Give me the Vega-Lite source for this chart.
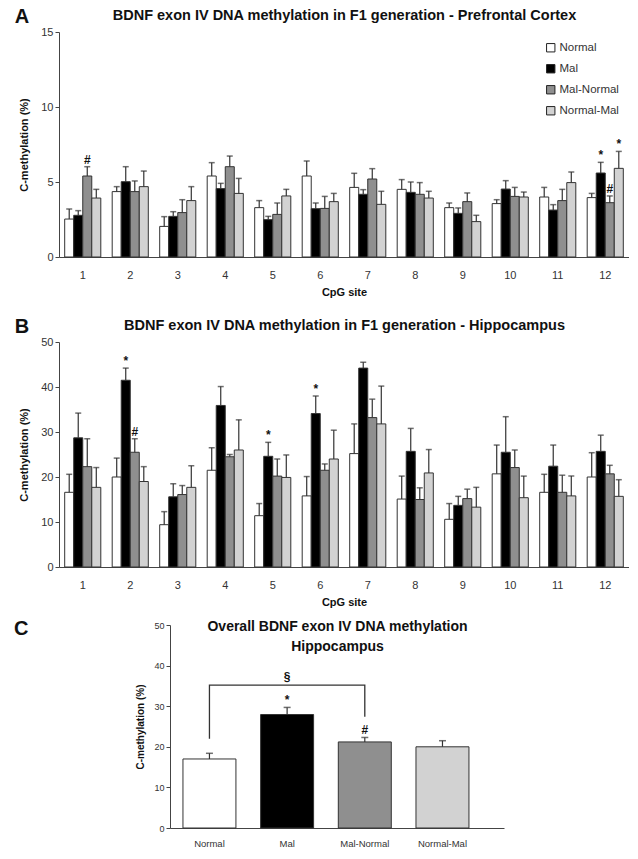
{
  "$schema": "https://vega.github.io/schema/vega-lite/v6.json",
  "padding": {"left": 14, "top": 7, "right": 0, "bottom": 0},
  "spacing": 12,
  "config": {
    "font": "Liberation Sans",
    "view": {"stroke": null},
    "axis": {"grid": false, "domainColor": "#444", "tickColor": "#444", "labelColor": "#333", "titleColor": "#111", "labelFont": "Liberation Sans", "titleFont": "Liberation Sans", "tickSize": 4, "labelPadding": 2}
  },
  "datasets": {
    "pfc": [
      {"site": 1, "grp": "Normal", "v": 2.53, "err": 3.2, "ann": ""},
      {"site": 1, "grp": "Mal", "v": 2.78, "err": 3.09, "ann": ""},
      {"site": 1, "grp": "Mal-Normal", "v": 5.4, "err": 6.02, "ann": "#"},
      {"site": 1, "grp": "Normal-Mal", "v": 3.93, "err": 4.51, "ann": ""},
      {"site": 2, "grp": "Normal", "v": 4.36, "err": 4.69, "ann": ""},
      {"site": 2, "grp": "Mal", "v": 5.02, "err": 6.02, "ann": ""},
      {"site": 2, "grp": "Mal-Normal", "v": 4.36, "err": 5.07, "ann": ""},
      {"site": 2, "grp": "Normal-Mal", "v": 4.69, "err": 5.73, "ann": ""},
      {"site": 3, "grp": "Normal", "v": 2.04, "err": 2.69, "ann": ""},
      {"site": 3, "grp": "Mal", "v": 2.71, "err": 3.02, "ann": ""},
      {"site": 3, "grp": "Mal-Normal", "v": 2.96, "err": 3.82, "ann": ""},
      {"site": 3, "grp": "Normal-Mal", "v": 3.76, "err": 4.69, "ann": ""},
      {"site": 4, "grp": "Normal", "v": 5.4, "err": 6.29, "ann": ""},
      {"site": 4, "grp": "Mal", "v": 4.56, "err": 4.91, "ann": ""},
      {"site": 4, "grp": "Mal-Normal", "v": 6.02, "err": 6.73, "ann": ""},
      {"site": 4, "grp": "Normal-Mal", "v": 4.24, "err": 5.24, "ann": ""},
      {"site": 5, "grp": "Normal", "v": 3.29, "err": 3.76, "ann": ""},
      {"site": 5, "grp": "Mal", "v": 2.49, "err": 2.71, "ann": ""},
      {"site": 5, "grp": "Mal-Normal", "v": 2.84, "err": 3.6, "ann": ""},
      {"site": 5, "grp": "Normal-Mal", "v": 4.07, "err": 4.51, "ann": ""},
      {"site": 6, "grp": "Normal", "v": 5.4, "err": 6.4, "ann": ""},
      {"site": 6, "grp": "Mal", "v": 3.22, "err": 3.6, "ann": ""},
      {"site": 6, "grp": "Mal-Normal", "v": 3.24, "err": 4.04, "ann": ""},
      {"site": 6, "grp": "Normal-Mal", "v": 3.69, "err": 4.24, "ann": ""},
      {"site": 7, "grp": "Normal", "v": 4.64, "err": 5.58, "ann": ""},
      {"site": 7, "grp": "Mal", "v": 4.18, "err": 4.49, "ann": ""},
      {"site": 7, "grp": "Mal-Normal", "v": 5.2, "err": 5.89, "ann": ""},
      {"site": 7, "grp": "Normal-Mal", "v": 3.51, "err": 4.38, "ann": ""},
      {"site": 8, "grp": "Normal", "v": 4.51, "err": 5.16, "ann": ""},
      {"site": 8, "grp": "Mal", "v": 4.31, "err": 5.0, "ann": ""},
      {"site": 8, "grp": "Mal-Normal", "v": 4.18, "err": 4.96, "ann": ""},
      {"site": 8, "grp": "Normal-Mal", "v": 3.93, "err": 4.38, "ann": ""},
      {"site": 9, "grp": "Normal", "v": 3.29, "err": 3.6, "ann": ""},
      {"site": 9, "grp": "Mal", "v": 2.91, "err": 3.27, "ann": ""},
      {"site": 9, "grp": "Mal-Normal", "v": 3.69, "err": 4.27, "ann": ""},
      {"site": 9, "grp": "Normal-Mal", "v": 2.36, "err": 2.78, "ann": ""},
      {"site": 10, "grp": "Normal", "v": 3.56, "err": 3.82, "ann": ""},
      {"site": 10, "grp": "Mal", "v": 4.53, "err": 5.09, "ann": ""},
      {"site": 10, "grp": "Mal-Normal", "v": 4.04, "err": 4.64, "ann": ""},
      {"site": 10, "grp": "Normal-Mal", "v": 4.0, "err": 4.33, "ann": ""},
      {"site": 11, "grp": "Normal", "v": 4.0, "err": 4.64, "ann": ""},
      {"site": 11, "grp": "Mal", "v": 3.13, "err": 3.49, "ann": ""},
      {"site": 11, "grp": "Mal-Normal", "v": 3.76, "err": 4.51, "ann": ""},
      {"site": 11, "grp": "Normal-Mal", "v": 4.96, "err": 5.67, "ann": ""},
      {"site": 12, "grp": "Normal", "v": 3.96, "err": 4.24, "ann": ""},
      {"site": 12, "grp": "Mal", "v": 5.6, "err": 6.31, "ann": "*"},
      {"site": 12, "grp": "Mal-Normal", "v": 3.62, "err": 4.07, "ann": "#"},
      {"site": 12, "grp": "Normal-Mal", "v": 5.91, "err": 7.04, "ann": "*"}
    ],
    "hip": [
      {"site": 1, "grp": "Normal", "v": 16.6, "err": 20.6, "ann": ""},
      {"site": 1, "grp": "Mal", "v": 28.7, "err": 34.2, "ann": ""},
      {"site": 1, "grp": "Mal-Normal", "v": 22.3, "err": 28.5, "ann": ""},
      {"site": 1, "grp": "Normal-Mal", "v": 17.7, "err": 22.1, "ann": ""},
      {"site": 2, "grp": "Normal", "v": 20.0, "err": 24.2, "ann": ""},
      {"site": 2, "grp": "Mal", "v": 41.5, "err": 44.2, "ann": "*"},
      {"site": 2, "grp": "Mal-Normal", "v": 25.5, "err": 28.5, "ann": "#"},
      {"site": 2, "grp": "Normal-Mal", "v": 19.0, "err": 22.3, "ann": ""},
      {"site": 3, "grp": "Normal", "v": 9.4, "err": 12.3, "ann": ""},
      {"site": 3, "grp": "Mal", "v": 15.6, "err": 18.5, "ann": ""},
      {"site": 3, "grp": "Mal-Normal", "v": 16.1, "err": 18.1, "ann": ""},
      {"site": 3, "grp": "Normal-Mal", "v": 17.7, "err": 22.5, "ann": ""},
      {"site": 4, "grp": "Normal", "v": 21.5, "err": 26.5, "ann": ""},
      {"site": 4, "grp": "Mal", "v": 35.9, "err": 40.1, "ann": ""},
      {"site": 4, "grp": "Mal-Normal", "v": 24.5, "err": 25.0, "ann": ""},
      {"site": 4, "grp": "Normal-Mal", "v": 26.0, "err": 32.7, "ann": ""},
      {"site": 5, "grp": "Normal", "v": 11.4, "err": 14.1, "ann": ""},
      {"site": 5, "grp": "Mal", "v": 24.6, "err": 27.7, "ann": "*"},
      {"site": 5, "grp": "Mal-Normal", "v": 20.2, "err": 24.0, "ann": ""},
      {"site": 5, "grp": "Normal-Mal", "v": 19.9, "err": 24.9, "ann": ""},
      {"site": 6, "grp": "Normal", "v": 15.8, "err": 20.1, "ann": ""},
      {"site": 6, "grp": "Mal", "v": 34.1, "err": 38.0, "ann": "*"},
      {"site": 6, "grp": "Mal-Normal", "v": 21.5, "err": 22.9, "ann": ""},
      {"site": 6, "grp": "Normal-Mal", "v": 24.0, "err": 30.4, "ann": ""},
      {"site": 7, "grp": "Normal", "v": 25.2, "err": 31.8, "ann": ""},
      {"site": 7, "grp": "Mal", "v": 44.2, "err": 45.5, "ann": ""},
      {"site": 7, "grp": "Mal-Normal", "v": 33.2, "err": 37.3, "ann": ""},
      {"site": 7, "grp": "Normal-Mal", "v": 31.8, "err": 40.2, "ann": ""},
      {"site": 8, "grp": "Normal", "v": 15.1, "err": 20.2, "ann": ""},
      {"site": 8, "grp": "Mal", "v": 25.7, "err": 30.8, "ann": ""},
      {"site": 8, "grp": "Mal-Normal", "v": 15.0, "err": 17.6, "ann": ""},
      {"site": 8, "grp": "Normal-Mal", "v": 20.9, "err": 26.1, "ann": ""},
      {"site": 9, "grp": "Normal", "v": 10.6, "err": 14.1, "ann": ""},
      {"site": 9, "grp": "Mal", "v": 13.7, "err": 15.7, "ann": ""},
      {"site": 9, "grp": "Mal-Normal", "v": 15.2, "err": 17.3, "ann": ""},
      {"site": 9, "grp": "Normal-Mal", "v": 13.3, "err": 17.7, "ann": ""},
      {"site": 10, "grp": "Normal", "v": 20.7, "err": 27.1, "ann": ""},
      {"site": 10, "grp": "Mal", "v": 25.5, "err": 33.4, "ann": ""},
      {"site": 10, "grp": "Mal-Normal", "v": 22.1, "err": 26.0, "ann": ""},
      {"site": 10, "grp": "Normal-Mal", "v": 15.4, "err": 20.2, "ann": ""},
      {"site": 11, "grp": "Normal", "v": 16.6, "err": 20.6, "ann": ""},
      {"site": 11, "grp": "Mal", "v": 22.4, "err": 27.1, "ann": ""},
      {"site": 11, "grp": "Mal-Normal", "v": 16.6, "err": 20.4, "ann": ""},
      {"site": 11, "grp": "Normal-Mal", "v": 15.8, "err": 20.2, "ann": ""},
      {"site": 12, "grp": "Normal", "v": 20.0, "err": 25.4, "ann": ""},
      {"site": 12, "grp": "Mal", "v": 25.7, "err": 29.3, "ann": ""},
      {"site": 12, "grp": "Mal-Normal", "v": 20.7, "err": 22.6, "ann": ""},
      {"site": 12, "grp": "Normal-Mal", "v": 15.7, "err": 19.4, "ann": ""}
    ],
    "overall": [
      {"grp": "Normal", "v": 17.0, "err": 18.4, "ann": ""},
      {"grp": "Mal", "v": 27.95, "err": 29.7, "ann": "*"},
      {"grp": "Mal-Normal", "v": 21.2, "err": 22.3, "ann": "#"},
      {"grp": "Normal-Mal", "v": 20.0, "err": 21.5, "ann": ""}
    ],
    "bracket": [
      {"grp": "Normal", "y": 22.0, "o": 1},
      {"grp": "Normal", "y": 35.2, "o": 2},
      {"grp": "Mal-Normal", "y": 35.2, "o": 3},
      {"grp": "Mal-Normal", "y": 27.4, "o": 4}
    ],
    "sect": [
      {"grp": "Mal", "y": 37.2, "t": "§"}
    ]
  },
  "resolve": {
    "scale": {"x": "independent", "y": "independent", "xOffset": "independent", "color": "independent"},
    "legend": {"color": "independent"}
  },
  "vconcat": [
    {
      "spacing": 20,
      "resolve": {
        "scale": {"x": "independent", "y": "independent", "xOffset": "independent", "color": "independent"},
        "legend": {"color": "independent"}
      },
      "vconcat": [
        {
          "width": 570,
          "height": 225,
          "data": {"name": "pfc"},
          "title": {"text": "A", "orient": "left", "angle": 0, "anchor": "end", "frame": "bounds", "offset": -25.5, "fontSize": 20, "fontWeight": "bold", "align": "right", "baseline": "top", "color": "#111"},
          "resolve": {"axis": {"x": "independent"}},
          "layer": [
            {
              "mark": {"type": "bar", "stroke": "#333", "strokeWidth": 1},
              "encoding": {
                "x": {"field": "site", "type": "ordinal", "scale": {"paddingInner": 0.24, "paddingOuter": 0.12},
                      "axis": {"title": "CpG site", "labelAngle": 0, "ticks": false, "labelPadding": 12, "labelFontSize": 11, "titleFontSize": 11, "titleFontWeight": "bold", "titlePadding": 6}},
                "xOffset": {"field": "grp", "type": "nominal", "scale": {"domain": ["Normal", "Mal", "Mal-Normal", "Normal-Mal"], "paddingInner": 0, "paddingOuter": 0}},
                "y": {"field": "v", "type": "quantitative", "title": "C-methylation (%)", "scale": {"domain": [0, 15], "nice": false},
                      "axis": {"values": [0, 5, 10, 15], "labelFontSize": 11, "titleFontSize": 11, "titleFontWeight": "bold", "titlePadding": 11.5}},
                "color": {"field": "grp", "type": "nominal",
                          "scale": {"domain": ["Normal", "Mal", "Mal-Normal", "Normal-Mal"], "range": ["#ffffff", "#000000", "#8f8f8f", "#d2d2d2"]},
                          "legend": {"title": null, "orient": "top-right", "offset": 10, "symbolType": "square", "symbolSize": 70, "symbolStrokeColor": "#222", "symbolStrokeWidth": 1, "labelFontSize": 11.5, "labelColor": "#333", "rowPadding": 8, "labelOffset": 3}}
              }
            },
            {
              "mark": {"type": "rule", "color": "#333", "strokeWidth": 1.2},
              "encoding": {
                "x": {"field": "site", "type": "ordinal", "axis": null},
                "xOffset": {"field": "grp", "type": "nominal"},
                "y": {"field": "v", "type": "quantitative", "title": "C-methylation (%)"},
                "y2": {"field": "err"}
              }
            },
            {
              "mark": {"type": "tick", "color": "#333", "size": 6, "thickness": 1.5, "orient": "horizontal"},
              "encoding": {
                "x": {"field": "site", "type": "ordinal", "axis": null},
                "xOffset": {"field": "grp", "type": "nominal"},
                "y": {"field": "err", "type": "quantitative", "title": "C-methylation (%)"}
              }
            },
            {
              "transform": [{"filter": "datum.ann != ''"}],
              "mark": {"type": "text", "dy": -7, "fontSize": 12, "fontWeight": "bold", "baseline": "middle", "color": "#111"},
              "encoding": {
                "x": {"field": "site", "type": "ordinal", "axis": null},
                "xOffset": {"field": "grp", "type": "nominal"},
                "y": {"field": "err", "type": "quantitative", "title": "C-methylation (%)"},
                "text": {"field": "ann"}
              }
            },
            {
              "mark": {"type": "rule", "opacity": 0},
              "encoding": {
                "x": {"field": "site", "type": "ordinal",
                      "axis": {"orient": "top", "labels": false, "ticks": false, "domain": false, "title": "BDNF exon IV DNA methylation in F1 generation - Prefrontal Cortex", "titleFontSize": 14.5, "titleFontWeight": "bold", "titlePadding": 10}}
              }
            }
          ]
        },
        {
          "width": 570,
          "height": 225,
          "data": {"name": "hip"},
          "title": {"text": "B", "orient": "left", "angle": 0, "anchor": "end", "frame": "bounds", "offset": -25.5, "fontSize": 20, "fontWeight": "bold", "align": "right", "baseline": "top", "color": "#111"},
          "resolve": {"axis": {"x": "independent"}},
          "layer": [
            {
              "mark": {"type": "bar", "stroke": "#333", "strokeWidth": 1},
              "encoding": {
                "x": {"field": "site", "type": "ordinal", "scale": {"paddingInner": 0.24, "paddingOuter": 0.12},
                      "axis": {"title": "CpG site", "labelAngle": 0, "ticks": false, "labelPadding": 12, "labelFontSize": 11, "titleFontSize": 11, "titleFontWeight": "bold", "titlePadding": 6}},
                "xOffset": {"field": "grp", "type": "nominal", "scale": {"domain": ["Normal", "Mal", "Mal-Normal", "Normal-Mal"], "paddingInner": 0, "paddingOuter": 0}},
                "y": {"field": "v", "type": "quantitative", "title": "C-methylation (%)", "scale": {"domain": [0, 50], "nice": false},
                      "axis": {"values": [0, 5, 10, 15, 20, 25, 30, 35, 40, 45, 50], "labelFontSize": 11, "titleFontSize": 11, "titleFontWeight": "bold", "titlePadding": 11.5}},
                "color": {"field": "grp", "type": "nominal",
                          "scale": {"domain": ["Normal", "Mal", "Mal-Normal", "Normal-Mal"], "range": ["#ffffff", "#000000", "#8f8f8f", "#d2d2d2"]},
                          "legend": null}
              }
            },
            {
              "mark": {"type": "rule", "color": "#333", "strokeWidth": 1.2},
              "encoding": {
                "x": {"field": "site", "type": "ordinal", "axis": null},
                "xOffset": {"field": "grp", "type": "nominal"},
                "y": {"field": "v", "type": "quantitative", "title": "C-methylation (%)"},
                "y2": {"field": "err"}
              }
            },
            {
              "mark": {"type": "tick", "color": "#333", "size": 6, "thickness": 1.5, "orient": "horizontal"},
              "encoding": {
                "x": {"field": "site", "type": "ordinal", "axis": null},
                "xOffset": {"field": "grp", "type": "nominal"},
                "y": {"field": "err", "type": "quantitative", "title": "C-methylation (%)"}
              }
            },
            {
              "transform": [{"filter": "datum.ann != ''"}],
              "mark": {"type": "text", "dy": -7, "fontSize": 12, "fontWeight": "bold", "baseline": "middle", "color": "#111"},
              "encoding": {
                "x": {"field": "site", "type": "ordinal", "axis": null},
                "xOffset": {"field": "grp", "type": "nominal"},
                "y": {"field": "err", "type": "quantitative", "title": "C-methylation (%)"},
                "text": {"field": "ann"}
              }
            },
            {
              "mark": {"type": "rule", "opacity": 0},
              "encoding": {
                "x": {"field": "site", "type": "ordinal",
                      "axis": {"orient": "top", "labels": false, "ticks": false, "domain": false, "title": "BDNF exon IV DNA methylation in F1 generation - Hippocampus", "titleFontSize": 14.5, "titleFontWeight": "bold", "titlePadding": 10}}
              }
            }
          ]
        }
      ]
    },
    {
      "spacing": 0,
      "resolve": {
        "scale": {"x": "independent", "y": "independent", "color": "independent"}
      },
      "hconcat": [
        {
          "width": 76,
          "height": 20,
          "data": {"values": []},
          "mark": "point",
          "title": {"text": "C", "orient": "left", "angle": 0, "anchor": "end", "frame": "bounds", "offset": 16, "dy": -6, "fontSize": 20, "fontWeight": "bold", "align": "right", "baseline": "top", "color": "#111"}
        },
        {
          "width": 334,
          "height": 203,
          "resolve": {"axis": {"x": "independent"}},
          "layer": [
            {
              "data": {"name": "overall"},
              "mark": {"type": "bar", "stroke": "#333", "strokeWidth": 1},
              "encoding": {
                "x": {"field": "grp", "type": "nominal", "sort": ["Normal", "Mal", "Mal-Normal", "Normal-Mal"],
                      "scale": {"domain": ["Normal", "Mal", "Mal-Normal", "Normal-Mal"], "paddingInner": 0.318, "paddingOuter": 0.309, "align": 0.27},
                      "axis": {"title": null, "labelAngle": 0, "ticks": false, "labelPadding": 10, "labelFontSize": 9.5}},
                "y": {"field": "v", "type": "quantitative", "title": "C-methylation (%)", "scale": {"domain": [0, 50], "nice": false},
                      "axis": {"values": [0, 5, 10, 15, 20, 25, 30, 35, 40, 45, 50], "labelFontSize": 9, "titleFontSize": 10, "titleFontWeight": "bold", "titlePadding": 8}},
                "color": {"field": "grp", "type": "nominal",
                          "scale": {"domain": ["Normal", "Mal", "Mal-Normal", "Normal-Mal"], "range": ["#ffffff", "#000000", "#8f8f8f", "#d2d2d2"]},
                          "legend": null}
              }
            },
            {
              "data": {"name": "overall"},
              "mark": {"type": "rule", "color": "#333", "strokeWidth": 1.2},
              "encoding": {
                "x": {"field": "grp", "type": "nominal", "axis": null},
                "y": {"field": "v", "type": "quantitative", "title": "C-methylation (%)"},
                "y2": {"field": "err"}
              }
            },
            {
              "data": {"name": "overall"},
              "mark": {"type": "tick", "color": "#333", "size": 7, "thickness": 1.5, "orient": "horizontal"},
              "encoding": {
                "x": {"field": "grp", "type": "nominal", "axis": null},
                "y": {"field": "err", "type": "quantitative", "title": "C-methylation (%)"}
              }
            },
            {
              "data": {"name": "overall"},
              "transform": [{"filter": "datum.ann != ''"}],
              "mark": {"type": "text", "dy": -7, "fontSize": 12, "fontWeight": "bold", "baseline": "middle", "color": "#111"},
              "encoding": {
                "x": {"field": "grp", "type": "nominal", "axis": null},
                "y": {"field": "err", "type": "quantitative", "title": "C-methylation (%)"},
                "text": {"field": "ann"}
              }
            },
            {
              "data": {"name": "bracket"},
              "mark": {"type": "line", "color": "#333", "strokeWidth": 1.3},
              "encoding": {
                "x": {"field": "grp", "type": "nominal", "axis": null},
                "y": {"field": "y", "type": "quantitative", "title": "C-methylation (%)"},
                "order": {"field": "o", "type": "quantitative"}
              }
            },
            {
              "data": {"name": "sect"},
              "mark": {"type": "text", "fontSize": 12, "fontWeight": "bold", "baseline": "middle", "color": "#111"},
              "encoding": {
                "x": {"field": "grp", "type": "nominal", "axis": null},
                "y": {"field": "y", "type": "quantitative", "title": "C-methylation (%)"},
                "text": {"field": "t"}
              }
            },
            {
              "data": {"name": "overall"},
              "mark": {"type": "rule", "opacity": 0},
              "encoding": {
                "x": {"field": "grp", "type": "nominal",
                      "axis": {"orient": "top", "labels": false, "ticks": false, "domain": false, "title": ["Overall BDNF exon IV DNA methylation", "Hippocampus"], "titleFontSize": 14, "titleFontWeight": "bold", "titleLineHeight": 20, "titlePadding": -28}}
              }
            }
          ]
        }
      ]
    }
  ]
}
